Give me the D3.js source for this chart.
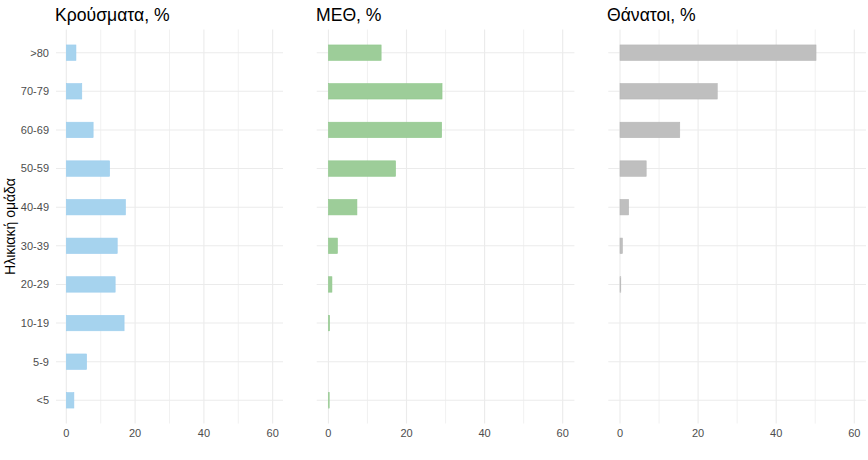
<!DOCTYPE html>
<html><head><meta charset="utf-8">
<script src="https://cdn.jsdelivr.net/npm/d3@7"></script>
<style>body{margin:0;background:#fff}svg{display:block}</style>
</head><body>
<svg id="c" width="868" height="460"></svg>
<script>
const ageGroups = [">80","70-79","60-69","50-59","40-49","30-39","20-29","10-19","5-9","<5"];
const cases  = [2.8, 4.5, 7.8, 12.6, 17.2, 14.8, 14.2, 16.8, 5.9, 2.2];
const icu    = [13.5, 29.1, 29.0, 17.2, 7.3, 2.3, 0.9, 0.3, 0.0, 0.2];
const deaths = [50.2, 24.9, 15.3, 6.7, 2.2, 0.6, 0.2, 0.0, 0.0, 0.0];
const panelTitles = ["Κρούσματα, %", "ΜΕΘ, %", "Θάνατοι, %"];
const xTicks = [0, 20, 40, 60];
const xMinor = [10, 30, 50];
const yTitle = "Ηλικιακή ομάδα";

const series = [cases, icu, deaths];
const fills = ["#a6d3ee", "#9dcd99", "#bfbfbf"];
const strokes = ["#9ccdee", "#91c88d", "#b6b6b6"];
const panels = [
  {left: 56, right: 283, titleX: 55},
  {left: 316.7, right: 574.4, titleX: 316},
  {left: 608.3, right: 866, titleX: 607}
];
const pTop = 29.5, pBottom = 423.5;
const font = "'Liberation Sans', Arial, Helvetica, sans-serif";

const svg = d3.select("#c");
const y = d3.scalePoint().domain(ageGroups).range([pTop, pBottom]).padding(0.6);
const bh = y.step() * 0.4;

panels.forEach((p, i) => {
  const x = d3.scaleLinear().domain([-3, 63]).range([p.left, p.right]);
  const g = svg.append("g");
  g.selectAll(".minor").data(xMinor).join("line")
    .attr("x1", d => x(d)).attr("x2", d => x(d))
    .attr("y1", pTop).attr("y2", pBottom)
    .attr("stroke", "#ebebeb").attr("stroke-width", 0.7);
  g.selectAll(".major").data(xTicks).join("line")
    .attr("x1", d => x(d)).attr("x2", d => x(d))
    .attr("y1", pTop).attr("y2", pBottom)
    .attr("stroke", "#ebebeb").attr("stroke-width", 1.1);
  g.selectAll(".hgrid").data(ageGroups).join("line")
    .attr("x1", p.left).attr("x2", p.right)
    .attr("y1", d => y(d)).attr("y2", d => y(d))
    .attr("stroke", "#ebebeb").attr("stroke-width", 1.1);
  g.selectAll(".bar").data(series[i].map((v, j) => ({v, k: ageGroups[j]})).filter(d => d.v > 0)).join("rect")
    .attr("x", x(0)).attr("y", d => y(d.k) - bh / 2)
    .attr("width", d => Math.max(0.5, x(d.v) - x(0))).attr("height", bh)
    .attr("fill", fills[i]).attr("stroke", strokes[i]).attr("stroke-width", 0.6);
  g.selectAll(".xt").data(xTicks).join("text")
    .attr("x", d => x(d)).attr("y", 437)
    .attr("text-anchor", "middle")
    .attr("font-family", font).attr("font-size", 11).attr("fill", "#4d4d4d")
    .text(d => d);
  g.append("text").attr("x", p.titleX).attr("y", 21)
    .attr("font-family", font).attr("font-size", 17.6).attr("fill", "#000")
    .text(panelTitles[i]);
  if (i === 0) {
    g.selectAll(".yt").data(ageGroups).join("text")
      .attr("x", 49).attr("y", d => y(d)).attr("dy", "0.35em")
      .attr("text-anchor", "end")
      .attr("font-family", font).attr("font-size", 11).attr("fill", "#4d4d4d")
      .text(d => d);
    g.append("text")
      .attr("transform", `translate(15,${(pTop + pBottom) / 2}) rotate(-90)`)
      .attr("text-anchor", "middle")
      .attr("font-family", font).attr("font-size", 14).attr("fill", "#000")
      .text(yTitle);
  }
});
</script>
</body></html>
